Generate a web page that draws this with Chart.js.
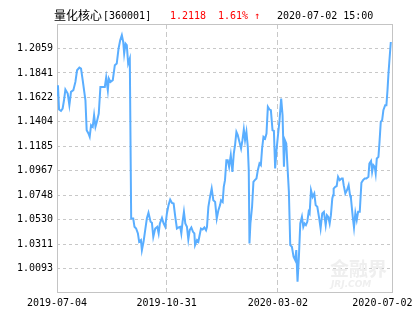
<!DOCTYPE html>
<html>
<head>
<meta charset="utf-8">
<script src="https://cdn.jsdelivr.net/npm/chart.js@4.4.1/dist/chart.umd.min.js"></script>
<style>
  body { margin: 0; background: #fff; }
  #wrap { position: relative; width: 415px; height: 330px; }
  .t { position: absolute; top: 9px; font: 10px "DejaVu Sans Mono", monospace; line-height: 14px; white-space: pre; }
  .cn { font: 12px "Noto Sans CJK SC", sans-serif; line-height: 14px; top: 8px; }
  .red { color: #ff0000; }
  .wm { position: absolute; color: #efefef; pointer-events: none; }
</style>
</head>
<body>
<div id="wrap">
  <canvas id="nav_chart" width="415" height="330"></canvas>
  <span class="t cn" style="left:54px">量化核心</span>
  <span class="t" style="left:103px">[360001]</span>
  <span class="t red" style="left:170px">1.2118</span>
  <span class="t red" style="left:218px">1.61% ↑</span>
  <span class="t" style="left:277px">2020-07-02 15:00</span>
  <span class="wm" style="left:330px;top:254px;font:bold 19px 'Noto Sans CJK SC';">金融界</span>
  <span class="wm" style="left:331px;top:279px;font:italic bold 9px 'DejaVu Sans';">JRJ.COM</span>
</div>
<script>
// trading day index (from 2019-07-04) and unit NAV
const days = [0, 0.7, 1.5, 2.9, 4.1, 5.1, 6.1, 7.8, 9.0, 10.2, 11.9, 13.4, 14.6, 16.3, 17.5, 18.7, 20.7, 21.6, 22.9, 23.8,
  24.8, 26.0, 27.0, 28.0, 29.0, 30.4, 31.6, 33.3, 34.8, 35.8, 37.0, 37.7, 38.9, 40.6, 42.1, 43.5, 44.8, 46.0, 47.2, 48.2,
  48.9, 49.9, 50.8, 51.8, 53.0, 54.0, 55.5, 56.4, 57.6, 58.9, 59.8, 61.1, 61.8, 63.0, 64.2, 65.4, 66.6, 68.1, 69.1, 70.1,
  71.5, 73.0, 74.0, 74.9, 76.4, 77.6, 78.8, 80.0, 81.2, 82.4, 83.7, 84.9, 86.1, 87.3, 88.5, 89.7, 90.5, 91.4, 92.4, 93.4,
  94.6, 95.6, 96.6, 97.8, 99.0, 100.0, 100.5, 101.9, 102.9, 103.6, 104.8, 106.0, 107.3, 108.5, 109.2, 110.2, 111.4, 112.6, 113.8, 115.1,
  116.3, 117.5, 118.7, 119.4, 120.6, 121.4, 122.3, 123.3, 124.3, 125.3, 126.5, 127.7, 128.7, 129.6, 130.6, 131.6, 132.8, 134.0, 135.0, 136.0,
  136.9, 137.9, 138.9, 139.6, 140.1, 140.8, 142.0, 143.0, 144.0, 145.2, 146.2, 147.4, 148.4, 149.3, 150.3, 151.5, 152.5, 153.5, 154.7, 155.7,
  156.9, 157.9, 158.8, 159.8, 161.0, 162.0, 163.2, 164.2, 165.2, 165.9, 166.9, 167.8, 168.8, 169.8, 171.0, 172.2, 173.4, 174.2, 175.1, 176.1,
  177.1, 178.3, 179.3, 180.2, 181.2, 182.2, 183.2, 183.9, 184.9, 186.1, 187.3, 188.3, 189.5, 190.9, 191.9, 193.1, 194.3, 195.6, 196.5, 197.5,
  198.5, 199.4, 200.4, 201.0, 201.4, 202.6, 203.6, 204.6, 205.8, 207.2, 208.0, 208.7, 209.9, 211.1, 212.3, 213.3, 214.0, 215.3, 216.2, 217.2,
  218.2, 219.2, 220.4, 221.6, 222.8, 224.0, 225.2, 226.7, 227.4, 228.6, 229.4, 230.3, 231.3, 232.0, 232.8, 234.0, 234.7, 235.7, 236.7, 237.6,
  238.9, 239.8, 240.6, 241.3, 242.0, 243.0];
const nav = [1.1642, 1.1731, 1.1514, 1.1502, 1.1523, 1.1597, 1.1693, 1.1657, 1.1553, 1.1672, 1.1687, 1.1761, 1.1865, 1.1889, 1.1880, 1.1776, 1.1597, 1.1329, 1.1300, 1.1270,
  1.1374, 1.1359, 1.1463, 1.1359, 1.1404, 1.1478, 1.1716, 1.1716, 1.1716, 1.1800, 1.1687, 1.1791, 1.1761, 1.1776, 1.1910, 1.1925, 1.2059, 1.2133, 1.2178, 1.2118,
  1.2014, 1.2103, 1.2089, 1.1925, 1.1970, 1.0540, 1.0540, 1.0466, 1.0451, 1.0407, 1.0332, 1.0347, 1.0258, 1.0332, 1.0436, 1.0540, 1.0591, 1.0511, 1.0502, 1.0377,
  1.0451, 1.0466, 1.0407, 1.0496, 1.0546, 1.0496, 1.0466, 1.0585, 1.0660, 1.0710, 1.0680, 1.0674, 1.0555, 1.0451, 1.0460, 1.0466, 1.0407, 1.0511, 1.0600, 1.0496,
  1.0466, 1.0353, 1.0436, 1.0460, 1.0421, 1.0407, 1.0302, 1.0347, 1.0332, 1.0377, 1.0451, 1.0442, 1.0460, 1.0436, 1.0466, 1.0645, 1.0734, 1.0808, 1.0704, 1.0689,
  1.0540, 1.0615, 1.0660, 1.0704, 1.0689, 1.0823, 1.0883, 1.1061, 1.1061, 1.1002, 1.1106, 1.0957, 1.1121, 1.1195, 1.1314, 1.1285, 1.1225, 1.1166, 1.1240, 1.1335,
  1.1240, 1.1314, 1.1181, 1.0972, 1.0317, 1.0496, 1.0645, 1.0868, 1.0883, 1.0898, 1.0972, 1.1032, 1.1017, 1.1166, 1.1270, 1.1255, 1.1300, 1.1538, 1.1514, 1.1508,
  1.1329, 1.1323, 1.0987, 1.1151, 1.1300, 1.1419, 1.1612, 1.1463, 1.1002, 1.1240, 1.1210, 1.1002, 1.0779, 1.0302, 1.0287, 1.0198, 1.0168, 1.0258, 0.9975, 1.0198,
  1.0496, 1.0555, 1.0466, 1.0496, 1.0481, 1.0511, 1.0600, 1.0585, 1.0793, 1.0734, 1.0764, 1.0660, 1.0645, 1.0540, 1.0451, 1.0585, 1.0600, 1.0481, 1.0570, 1.0555,
  1.0496, 1.0570, 1.0719, 1.0749, 1.0808, 1.0823, 1.0829, 1.0913, 1.0883, 1.0898, 1.0898, 1.0838, 1.0764, 1.0793, 1.0838, 1.0749, 1.0719, 1.0555, 1.0460, 1.0591,
  1.0526, 1.0600, 1.0600, 1.0859, 1.0883, 1.0898, 1.0898, 1.0913, 1.1032, 1.1055, 1.0957, 1.1017, 1.1002, 1.0942, 1.1076, 1.1091, 1.1210, 1.1404, 1.1419, 1.1508,
  1.1553, 1.1553, 1.1687, 1.1835, 1.1955, 1.2118];

const yTicks = [1.0093, 1.0311, 1.0530, 1.0748, 1.0967, 1.1185, 1.1404, 1.1622, 1.1841, 1.2059];
const xTickDays = [0, 79.8, 160.8, 236.9];
const xTickLabels = ['2019-07-04', '2019-10-31', '2020-03-02', '2020-07-02'];

const gridGray = '#c8c8c8';
const tickFont = { family: 'DejaVu Sans Mono', size: 10 };

// plain frame round the plot area
const frame = {
  id: 'frame',
  beforeDatasetsDraw(chart) {
    const a = chart.chartArea, c = chart.ctx;
    c.save();
    c.strokeStyle = '#c4c4c4';
    c.lineWidth = 1;
    c.strokeRect(a.left + 0.5, a.top + 0.5, a.width - 1, a.height - 1);
    c.restore();
  }
};

const ctx = document.getElementById('nav_chart').getContext('2d');
new Chart(ctx, {
  type: 'line',
  data: {
    datasets: [{
      data: days.map((d, i) => ({ x: d, y: nav[i] })),
      borderColor: '#5aaeff',
      borderWidth: 2,
      pointRadius: 0,
      tension: 0
    }]
  },
  options: {
    responsive: false,
    animation: false,
    layout: { padding: { top: 24, right: 22, left: 0, bottom: 0 } },
    plugins: { legend: { display: false }, tooltip: { enabled: false } },
    scales: {
      x: {
        type: 'linear',
        min: 0,
        max: 244.6,
        afterBuildTicks: s => { s.ticks = xTickDays.map(v => ({ value: v })); },
        afterFit: s => { s.height = 37; s.paddingRight = 0; s.paddingLeft = 0; },
        ticks: {
          callback: (v, i) => xTickLabels[i],
          autoSkip: false,
          maxRotation: 0,
          padding: 4,
          color: '#000',
          font: tickFont
        },
        grid: {
          drawTicks: false,
          color: c => (c.index === 1 || c.index === 2) ? gridGray : 'transparent'
        },
        border: { display: false, dash: [5, 3] }
      },
      y: {
        min: 0.98745,
        max: 1.22785,
        afterBuildTicks: s => { s.ticks = yTicks.map(v => ({ value: v })); },
        afterFit: s => { s.width = 57; },
        ticks: {
          callback: v => v.toFixed(4),
          padding: 4,
          color: '#000',
          font: tickFont
        },
        grid: { drawTicks: false, color: gridGray },
        border: { display: false, dash: [3, 3] }
      }
    }
  },
  plugins: [frame]
});
</script>
</body>
</html>
